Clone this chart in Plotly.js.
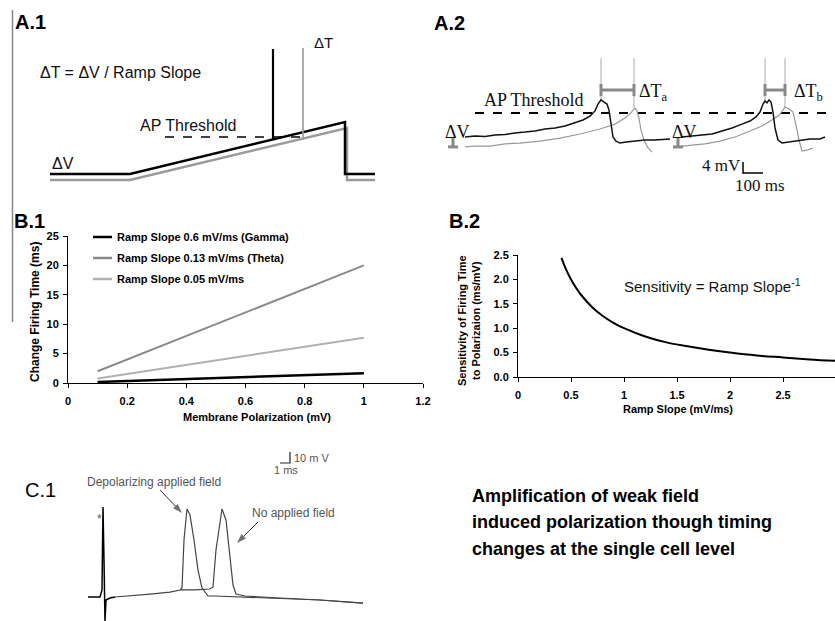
<!DOCTYPE html>
<html><head><meta charset="utf-8">
<script src="https://cdn.plot.ly/plotly-3.0.1.min.js"></script>
<style>html,body{margin:0;padding:0;background:#fff}#chart{width:835px;height:621px}</style>
</head><body><div id="chart"></div>
<script>
// ---------- B.1 data ----------
const b1Polarization = [0.1, 1.0];
const b1Gamma = [0.17, 1.67];
const b1Theta = [0.77, 7.69];
const b1Slow = [2.0, 20.0];
const b1LegendLabels = ["Ramp Slope 0.6 mV/ms (Gamma)", "Ramp Slope 0.13 mV/ms (Theta)", "Ramp Slope 0.05 mV/ms"];

// ---------- B.2 data ----------
const b2RampSlope = [0.41, 0.45, 0.5, 0.55, 0.6, 0.7, 0.8, 0.9, 1.0, 1.2, 1.4, 1.6, 1.8, 2.0, 2.25, 2.5, 2.75, 3.0];
const b2Sensitivity = [2.44, 2.22, 2.0, 1.82, 1.67, 1.43, 1.25, 1.11, 1.0, 0.83, 0.71, 0.63, 0.56, 0.5, 0.44, 0.4, 0.36, 0.33];

// ---------- A.1 schematic (arbitrary time / voltage units) ----------
const a1TimeBlack = [10, 90, 305, 305, 335];
const a1VoltBlack = [21, 21, 73, 21, 21];
const a1TimeGrey = [10, 90, 307, 307, 335];
const a1VoltGrey = [15, 15, 67, 15, 15];
const a1SpikeBlackT = [233, 233];
const a1SpikeBlackV = [56, 146];
const a1SpikeGreyT = [263, 263];
const a1SpikeGreyV = [57, 147];
const a1ThreshT = [125, 263];
const a1ThreshV = [58, 58];

// ---------- A.2 recordings (ms, mV relative to baseline) ----------
const a2BlackT1 = [0, 50, 100, 150, 200, 250, 300, 350, 400, 450, 500, 550, 590, 625, 650, 665, 680, 695, 710, 720, 730, 740, 755, 775, 805, 850, 900, 950, 1000, 1025];
const a2BlackV1 = [0, 0.4, 0.2, 0.7, 0.9, 1.5, 1.8, 2.2, 2.9, 3.3, 4.0, 5.1, 6.2, 7.6, 9.5, 12.0, 13.5, 12.7, 12.0, 9.8, 4.4, 0, -1.5, -2.2, -1.8, -1.5, -1.1, -1.1, -0.7, -0.7];
const a2GreyT1 = [0, 50, 125, 200, 275, 375, 475, 575, 675, 750, 800, 825, 840, 850, 860, 870, 880, 895, 915, 935];
const a2GreyV1 = [-3.6, -3.3, -3.3, -2.5, -2.2, -1.5, -0.4, 1.1, 2.9, 4.7, 6.9, 8.4, 9.8, 10.5, 9.5, 6.9, 2.5, -1.1, -4.0, -5.5];
const a2BlackT2 = [1085, 1135, 1185, 1235, 1285, 1335, 1385, 1425, 1455, 1475, 1490, 1500, 1510, 1520, 1530, 1540, 1550, 1565, 1585, 1625, 1675, 1725, 1775, 1800];
const a2BlackV2 = [0, 0.4, 0.7, 1.1, 2.2, 3.3, 4.7, 5.8, 7.3, 9.1, 12.0, 13.1, 12.4, 13.5, 12.7, 9.1, 3.3, -1.1, -2.2, -1.8, -1.1, -0.7, -0.7, 0];
const a2GreyT2 = [1085, 1135, 1200, 1275, 1350, 1425, 1485, 1535, 1570, 1590, 1600, 1615, 1625, 1640, 1655, 1670, 1685, 1715, 1740];
const a2GreyV2 = [-3.3, -2.9, -2.5, -1.5, 0, 2.2, 4.0, 6.2, 8.0, 9.8, 10.9, 10.5, 9.8, 9.1, 4.4, -1.1, -5.1, -4.7, -4.0];
const a2SpikeT = [680, 845, 1500, 1600];
const a2SpikeBase = [13.5, 10.5, 13.1, 10.9];
const a2SpikeTop = 28.7;
const a2ThreshT = [50, 1850];
const a2ThreshV = [8.7, 8.7];
const a2DeltaTStart = [680, 1500];
const a2DeltaTEnd = [845, 1600];
const a2DeltaTLevel = 17.1;
const a2DeltaVT = [-60, 1065];
const a2DeltaVRange = [0, -3.6];
const a2ScaleT = [1390, 1390, 1490];
const a2ScaleV = [-9.1, -13.1, -13.1];

// ---------- C.1 recording (ms, mV) ----------
const c1ArtT = [0, 1.2, 1.4, 1.5, 1.6, 1.7, 1.8, 2.2, 2.7];
const c1ArtV = [0, 0, 6.4, 81.8, 33.6, -21.8, -2.7, -0.9, 0];
const c1DepT = [2.7, 4.2, 6.2, 8.2, 9.2, 9.4, 9.6, 9.9, 10.2, 10.6, 11.0, 11.4, 12.0, 12.7, 15.2, 19.2, 23.2, 27.5];
const c1DepV = [0, 0.9, 2.7, 4.5, 6.4, 8.2, 51.8, 80, 74.5, 51.8, 24.5, 8.2, 0.9, 0.9, 0, -0.9, -2.7, -5.5];
const c1NoT = [9.2, 10.7, 12.2, 12.5, 12.8, 13.4, 13.8, 14.2, 14.5, 14.8, 15.7, 19.2, 23.2, 27.5];
const c1NoV = [6.4, 6.4, 7.3, 9.1, 42.7, 80, 70, 33.6, 10.9, 2.7, 0.9, -0.9, -2.7, -5.5];
const c1ScaleT = [19.2, 20.2, 20.2];
const c1ScaleV = [121.8, 121.8, 131.8];
const c1ArrowDepT = [7.2, 9.4];
const c1ArrowDepV = [97.3, 76.4];
const c1ArrowNoT = [17.0, 14.9];
const c1ArrowNoV = [68.2, 49.1];

// ---------- layout helpers ----------
const W = 835, H = 621;
const dx = (a, b) => [a / W, Math.min(1, b / W)];
const dy = (top, bottom) => [1 - bottom / H, 1 - top / H];
const SANS = "Liberation Sans, Arial, sans-serif";
const SERIF = "Liberation Serif, Times New Roman, serif";

function ln(x, y, xa, ya, color, width, dash) {
  return {type: 'scatter', mode: 'lines', x: x, y: y, xaxis: xa, yaxis: ya,
    line: {color: color, width: width, dash: dash || 'solid'}, hoverinfo: 'skip', showlegend: false};
}
function arrow(x, y, xa, ya, color) {
  return {type: 'scatter', mode: 'lines+markers', x: x, y: y, xaxis: xa, yaxis: ya,
    line: {color: color, width: 1},
    marker: {symbol: ['circle', 'arrow'], size: [0, 10], color: color, angleref: 'previous', line: {width: 0}},
    hoverinfo: 'skip', showlegend: false, cliponaxis: false};
}

const traces = [];
// B.1
traces.push(ln(b1Polarization, b1Slow, 'x', 'y', '#8a8a8a', 2));
traces.push(ln(b1Polarization, b1Theta, 'x', 'y', '#b0b0b0', 2));
traces.push(ln(b1Polarization, b1Gamma, 'x', 'y', '#000', 2.5));
// B.2
traces.push(Object.assign(ln(b2RampSlope, b2Sensitivity, 'x2', 'y2', '#000', 2), {line: {color: '#000', width: 2, shape: 'spline'}}));
// A.1
traces.push(ln(a1TimeGrey, a1VoltGrey, 'x3', 'y3', '#9a9a9a', 2.5));
traces.push(ln(a1TimeBlack, a1VoltBlack, 'x3', 'y3', '#000', 2.5));
traces.push(ln(a1ThreshT, a1ThreshV, 'x3', 'y3', '#000', 1.5, 'dash'));
traces.push(ln(a1SpikeBlackT, a1SpikeBlackV, 'x3', 'y3', '#000', 2.2));
traces.push(ln(a1SpikeGreyT, a1SpikeGreyV, 'x3', 'y3', '#9a9a9a', 1.6));
// A.2
traces.push(ln(a2ThreshT, a2ThreshV, 'x4', 'y4', '#000', 2, 'dash'));
for (let i = 0; i < a2SpikeT.length; i++) {
  traces.push(ln([a2SpikeT[i], a2SpikeT[i]], [a2SpikeBase[i], a2SpikeTop], 'x4', 'y4', '#aaa', 1));
}
traces.push(ln(a2GreyT1, a2GreyV1, 'x4', 'y4', '#999', 1.2));
traces.push(ln(a2GreyT2, a2GreyV2, 'x4', 'y4', '#999', 1.2));
traces.push(ln(a2BlackT1, a2BlackV1, 'x4', 'y4', '#111', 1.5));
traces.push(ln(a2BlackT2, a2BlackV2, 'x4', 'y4', '#111', 1.5));
for (let i = 0; i < a2DeltaTStart.length; i++) {
  const s = a2DeltaTStart[i], e = a2DeltaTEnd[i];
  traces.push(ln([s, e], [a2DeltaTLevel, a2DeltaTLevel], 'x4', 'y4', '#888', 3));
  traces.push(ln([s, s], [a2DeltaTLevel - 2.2, a2DeltaTLevel + 2.2], 'x4', 'y4', '#888', 3));
  traces.push(ln([e, e], [a2DeltaTLevel - 2.2, a2DeltaTLevel + 2.2], 'x4', 'y4', '#888', 3));
}
for (let i = 0; i < a2DeltaVT.length; i++) {
  const t = a2DeltaVT[i];
  traces.push(ln([t, t], a2DeltaVRange, 'x4', 'y4', '#888', 3));
  traces.push(ln([t - 25, t + 25], [a2DeltaVRange[1], a2DeltaVRange[1]], 'x4', 'y4', '#888', 3));
}
traces.push(ln(a2ScaleT, a2ScaleV, 'x4', 'y4', '#000', 1.5));
// C.1
traces.push(ln(c1DepT, c1DepV, 'x5', 'y5', '#444', 1.2));
traces.push(ln(c1NoT, c1NoV, 'x5', 'y5', '#444', 1.2));
traces.push(ln(c1ArtT, c1ArtV, 'x5', 'y5', '#000', 1.5));
traces.push(ln(c1ScaleT, c1ScaleV, 'x5', 'y5', '#222', 1.2));
traces.push(arrow(c1ArrowDepT, c1ArrowDepV, 'x5', 'y5', '#333'));
traces.push(arrow(c1ArrowNoT, c1ArrowNoV, 'x5', 'y5', '#333'));

// ---------- annotations ----------
function ann(text, px, py, size, opts) {
  return Object.assign({text: text, xref: 'paper', yref: 'paper', x: px / W, y: 1 - py / H,
    xanchor: 'left', yanchor: 'middle', showarrow: false,
    font: {family: SANS, size: size, color: '#000'}}, opts || {});
}
const bold = (size, color) => ({family: SANS, size: size, color: color || '#000', weight: 'bold'});

const annotations = [
  ann('A.1', 13, 22, 20, {font: bold(20)}),
  ann('A.2', 432, 23, 20, {font: bold(20)}),
  ann('B.1', 12, 221, 20, {font: bold(20)}),
  ann('B.2', 447, 221, 20, {font: bold(20)}),
  ann('C.1', 23, 490, 20),
  // A.1 texts
  ann('\u0394T = \u0394V / Ramp Slope', 38, 73, 16, {font: {family: SANS, size: 16, color: '#111'}}),
  ann('AP Threshold', 138, 125, 16, {font: {family: SANS, size: 16, color: '#111'}}),
  ann('\u0394V', 50, 163, 16, {font: {family: SANS, size: 16, color: '#111'}}),
  ann('\u0394T', 312, 43, 15, {font: {family: SANS, size: 15, color: '#111'}}),
  // A.2 texts
  ann('AP Threshold', 482, 100, 18, {font: {family: SERIF, size: 18, color: '#111'}}),
  ann('\u0394V', 443, 132, 18, {font: {family: SERIF, size: 18, color: '#111'}}),
  ann('\u0394V', 670, 132, 18, {font: {family: SERIF, size: 18, color: '#111'}}),
  ann('\u0394T<sub>a</sub>', 637, 92, 18, {font: {family: SERIF, size: 18, color: '#111'}}),
  ann('\u0394T<sub>b</sub>', 792, 92, 18, {font: {family: SERIF, size: 18, color: '#111'}}),
  ann('4 mV', 700, 165, 17, {font: {family: SERIF, size: 17, color: '#111'}}),
  ann('100 ms', 733, 185, 17, {font: {family: SERIF, size: 17, color: '#111'}}),
  // B.1 legend and titles
  ann(b1LegendLabels[0], 115, 237, 11, {font: bold(11)}),
  ann(b1LegendLabels[1], 115, 258, 11, {font: bold(11)}),
  ann(b1LegendLabels[2], 115, 279, 11, {font: bold(11)}),
  ann('Membrane Polarization (mV)', 257, 417, 11, {font: bold(11), xanchor: 'center'}),
  ann('Change Firing Time (ms)', 35, 312, 12, {font: bold(12), xanchor: 'center', textangle: -90}),
  // B.2 titles
  ann('Ramp Slope (mV/ms)', 678, 409, 11, {font: bold(11), xanchor: 'center'}),
  ann('Sensitivity of Firing Time<br>to Polarizaion (ms/mV)', 469, 320, 11, {font: bold(11), xanchor: 'center', textangle: -90}),
  ann('Sensitivity = Ramp Slope<sup>-1</sup>', 622, 285, 15, {font: {family: SANS, size: 15, color: '#111'}}),
  // C.1 texts
  ann('*', 95, 519, 12, {font: {family: SANS, size: 12, color: '#555'}}),
  ann('Depolarizing applied field', 85, 482, 12, {font: {family: SANS, size: 12, color: '#555'}}),
  ann('No applied field', 250, 513, 12, {font: {family: SANS, size: 12, color: '#555'}}),
  ann('10 m V', 292, 458, 11, {font: {family: SANS, size: 11, color: '#555'}}),
  ann('1 ms', 272, 470, 11, {font: {family: SANS, size: 11, color: '#555'}}),
  // summary text
  ann('Amplification of weak field', 470, 496, 18, {font: bold(18)}),
  ann('induced polarization though timing', 470, 522, 18, {font: bold(18)}),
  ann('changes at the single cell level', 470, 549, 18, {font: bold(18)})
];

// legend glyphs for B.1 and left rule
const legendColors = ['#000', '#8a8a8a', '#b0b0b0'];
const legendY = [237, 258, 279];
const shapes = legendY.map((y, i) => ({type: 'line', xref: 'paper', yref: 'paper',
  x0: 93 / W, x1: 112 / W, y0: 1 - y / H, y1: 1 - y / H, line: {color: legendColors[i], width: 2.5}}));
shapes.push({type: 'line', xref: 'paper', yref: 'paper', x0: 12.5 / W, x1: 12.5 / W, y0: 1 - 10 / H, y1: 1 - 322 / H,
  line: {color: '#888', width: 1.5}});

const tickFont = bold(11);
const hidden = (domain, range) => ({domain: domain, range: range, showline: false, showgrid: false,
  zeroline: false, showticklabels: false, ticks: '', fixedrange: true});

const layout = {
  width: W, height: H, margin: {l: 0, r: 0, t: 0, b: 0},
  paper_bgcolor: '#fff', plot_bgcolor: 'rgba(0,0,0,0)', showlegend: false,
  font: {family: SANS},
  xaxis: {domain: dx(68, 423), range: [0, 1.2], tickvals: [0, 0.2, 0.4, 0.6, 0.8, 1.0, 1.2],
    showline: true, linecolor: '#000', linewidth: 1, ticks: 'outside', ticklen: 4, tickcolor: '#000',
    showgrid: false, zeroline: false, tickfont: tickFont, ticklabelstandoff: 4, anchor: 'y'},
  yaxis: {domain: dy(236, 383), range: [0, 25], tickvals: [0, 5, 10, 15, 20, 25],
    showline: true, linecolor: '#000', linewidth: 1, ticks: 'outside', ticklen: 4, tickcolor: '#000',
    showgrid: false, zeroline: false, tickfont: tickFont, ticklabelstandoff: 2, anchor: 'x'},
  xaxis2: {domain: dx(518, 836), range: [0, 2.99], tickvals: [0, 0.5, 1, 1.5, 2, 2.5],
    showline: true, linecolor: '#000', linewidth: 1, ticks: 'outside', ticklen: 4, tickcolor: '#000',
    showgrid: false, zeroline: false, tickfont: tickFont, ticklabelstandoff: 4, anchor: 'y2'},
  yaxis2: {domain: dy(255, 377), range: [0, 2.5], tickvals: [0, 0.5, 1, 1.5, 2, 2.5], tickformat: '.1f',
    showline: true, linecolor: '#000', linewidth: 1, ticks: 'outside', ticklen: 4, tickcolor: '#000',
    showgrid: false, zeroline: false, tickfont: tickFont, ticklabelstandoff: 2, anchor: 'x2'},
  xaxis3: Object.assign(hidden(dx(40, 390), [0, 350]), {anchor: 'y3'}),
  yaxis3: Object.assign(hidden(dy(30, 195), [0, 165]), {anchor: 'x3'}),
  xaxis4: Object.assign(hidden(dx(430, 835), [-175, 1850]), {anchor: 'y4'}),
  yaxis4: Object.assign(hidden(dy(40, 195), [-21.1, 35.3]), {anchor: 'x4'}),
  xaxis5: Object.assign(hidden(dx(80, 380), [-0.8, 29.2]), {anchor: 'y5'}),
  yaxis5: Object.assign(hidden(dy(440, 621), [-21.8, 142.7]), {anchor: 'x5'}),
  annotations: annotations,
  shapes: shapes
};

Plotly.newPlot('chart', traces, layout, {staticPlot: true, displayModeBar: false});
</script></body></html>
